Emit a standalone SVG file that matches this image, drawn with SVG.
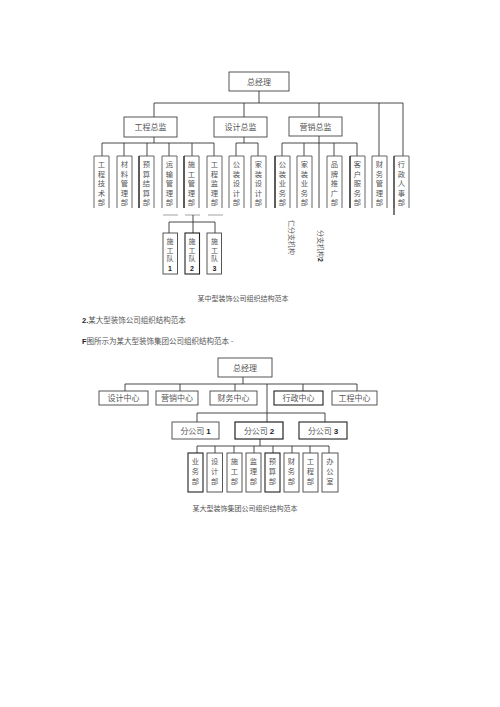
<svg xmlns="http://www.w3.org/2000/svg" width="500" height="707" viewBox="0 0 500 707">
<style>
  .bx{fill:#fff;stroke:#444;stroke-width:0.9}
  .op{fill:none;stroke:#555;stroke-width:0.9}
  .dk{fill:none;stroke:#222;stroke-width:1.2}
  .ln{fill:none;stroke:#333;stroke-width:0.9}
  .gl{fill:none;stroke:#999;stroke-width:0.9}
  text{font-family:"Noto Sans CJK SC","Liberation Sans",sans-serif;fill:#555}
  .t8{font-size:8px}
  .v{font-size:7.3px}
  .t7{font-size:7px}
  .c{text-anchor:middle}
  .n{font-family:"Liberation Sans",sans-serif;font-weight:bold;fill:#222}
</style>
<rect width="500" height="707" fill="#fff"/>

<!-- connectors -->
<g id="connectors">
  <!-- top chart -->
  <path class="ln" d="M259 91V103M154 103H403M154 103V117M244 103V117M319 103V117M379 103V156M403 103V156"/>
  <path class="ln" d="M154 137V143M102 143H214M102 143V156M124 143V156M147 143V156M169 143V156M192 143V156M214 143V156"/>
  <path class="ln" d="M244 137V143M236 143H258M236 143V156M258 143V156"/>
  <path class="ln" d="M319 136V208M282 143H357M282 143V156M304 143V156M334 143V156M357 143V156"/>
  <path class="dk" d="M394 156V215"/>
  <path class="gl" d="M163 215H178M185 215H200M208 215H223"/>
  <path class="ln" d="M193 215V222M169 222H215M169 222V233M193 222V233M215 222V233"/>
  <!-- bottom chart -->
  <path class="ln" d="M243 377V384M125 384H357M125 384V391M180 384V391M235 384V391M303 384V391M357 384V391"/>
  <path class="ln" d="M267 384V422M197 413H325M197 413V422M325 413V422"/>
  <path class="ln" d="M260 439V446M197 446H329M197 446V453M215 446V453M234 446V453M254 446V453M273 446V453M292 446V453M310 446V453M329 446V453"/>
</g>

<!-- top chart nodes -->
<g id="n-zjl"><rect class="bx" x="229" y="72" width="60" height="19"/><text class="t8 c" x="259" y="84.5">总经理</text></g>
<g id="n-gczj"><rect class="bx" x="124" y="117" width="53" height="20"/><text class="t8 c" x="150.5" y="130">工程总监</text></g>
<g id="n-sjzj"><rect class="bx" x="214" y="117" width="53" height="20"/><text class="t8 c" x="240.5" y="130">设计总监</text></g>
<g id="n-yxzj"><rect class="bx" x="289" y="117" width="53" height="19"/><text class="t8 c" x="315.5" y="130">营销总监</text></g>

<g id="d1"><path class="op" d="M94 208V156H109V208"/><text class="v c"><tspan x="101.5" y="167">工</tspan><tspan x="101.5" y="176.5">程</tspan><tspan x="101.5" y="186">技</tspan><tspan x="101.5" y="195.5">术</tspan><tspan x="101.5" y="205">部</tspan></text></g>
<g id="d2"><path class="op" d="M117 208V156H132V208"/><text class="v c"><tspan x="124.5" y="167">材</tspan><tspan x="124.5" y="176.5">料</tspan><tspan x="124.5" y="186">管</tspan><tspan x="124.5" y="195.5">理</tspan><tspan x="124.5" y="205">部</tspan></text></g>
<g id="d3"><path class="op" d="M139 208V156H154V208"/><path class="dk" d="M139 156V208"/><text class="v c"><tspan x="146.5" y="167">预</tspan><tspan x="146.5" y="176.5">算</tspan><tspan x="146.5" y="186">结</tspan><tspan x="146.5" y="195.5">算</tspan><tspan x="146.5" y="205">部</tspan></text></g>
<g id="d4"><path class="op" d="M162 208V156H177V208"/><text class="v c"><tspan x="169.5" y="167">运</tspan><tspan x="169.5" y="176.5">输</tspan><tspan x="169.5" y="186">管</tspan><tspan x="169.5" y="195.5">理</tspan><tspan x="169.5" y="205">部</tspan></text></g>
<g id="d5"><path class="op" d="M184 208V156H199V208"/><path class="dk" d="M184 156V208"/><text class="v c"><tspan x="191.5" y="167">施</tspan><tspan x="191.5" y="176.5">工</tspan><tspan x="191.5" y="186">管</tspan><tspan x="191.5" y="195.5">理</tspan><tspan x="191.5" y="205">部</tspan></text></g>
<g id="d6"><path class="op" d="M207 208V156H222V208"/><text class="v c"><tspan x="214.5" y="167">工</tspan><tspan x="214.5" y="176.5">程</tspan><tspan x="214.5" y="186">监</tspan><tspan x="214.5" y="195.5">理</tspan><tspan x="214.5" y="205">部</tspan></text></g>
<g id="d7"><path class="op" d="M229 208V156H244V208"/><text class="v c"><tspan x="236.5" y="167">公</tspan><tspan x="236.5" y="176.5">装</tspan><tspan x="236.5" y="186">设</tspan><tspan x="236.5" y="195.5">计</tspan><tspan x="236.5" y="205">部</tspan></text></g>
<g id="d8"><path class="op" d="M251 208V156H266V208"/><text class="v c"><tspan x="258.5" y="167">家</tspan><tspan x="258.5" y="176.5">装</tspan><tspan x="258.5" y="186">设</tspan><tspan x="258.5" y="195.5">计</tspan><tspan x="258.5" y="205">部</tspan></text></g>
<g id="d9"><path class="op" d="M275 208V156H290V208"/><path class="dk" d="M275 156V208"/><text class="v c"><tspan x="282.5" y="167">公</tspan><tspan x="282.5" y="176.5">装</tspan><tspan x="282.5" y="186">业</tspan><tspan x="282.5" y="195.5">务</tspan><tspan x="282.5" y="205">部</tspan></text></g>
<g id="d10"><path class="op" d="M297 208V156H312V208"/><text class="v c"><tspan x="304.5" y="167">家</tspan><tspan x="304.5" y="176.5">装</tspan><tspan x="304.5" y="186">业</tspan><tspan x="304.5" y="195.5">务</tspan><tspan x="304.5" y="205">部</tspan></text></g>
<g id="d11"><path class="op" d="M327 208V156H342V208"/><text class="v c"><tspan x="334.5" y="167">品</tspan><tspan x="334.5" y="176.5">牌</tspan><tspan x="334.5" y="186">推</tspan><tspan x="334.5" y="195.5">广</tspan><tspan x="334.5" y="205">部</tspan></text></g>
<g id="d12"><path class="op" d="M350 208V156H365V208"/><path class="dk" d="M350 156V208"/><text class="v c"><tspan x="357.5" y="167">客</tspan><tspan x="357.5" y="176.5">户</tspan><tspan x="357.5" y="186">服</tspan><tspan x="357.5" y="195.5">务</tspan><tspan x="357.5" y="205">部</tspan></text></g>
<g id="d13"><path class="op" d="M372 208V156H387V208"/><text class="v c"><tspan x="379.5" y="167">财</tspan><tspan x="379.5" y="176.5">务</tspan><tspan x="379.5" y="186">管</tspan><tspan x="379.5" y="195.5">理</tspan><tspan x="379.5" y="205">部</tspan></text></g>
<g id="d14"><path class="op" d="M394 208V156H409V208"/><text class="v c"><tspan x="401.5" y="167">行</tspan><tspan x="401.5" y="176.5">政</tspan><tspan x="401.5" y="186">人</tspan><tspan x="401.5" y="195.5">事</tspan><tspan x="401.5" y="205">部</tspan></text></g>

<g id="sgd1"><rect class="bx" x="163" y="233" width="14.5" height="41"/><text class="t7 c"><tspan x="170" y="244">施</tspan><tspan x="170" y="252.5">工</tspan><tspan x="170" y="261">队</tspan></text><text class="t7 c n" x="170" y="270.5">1</text></g>
<g id="sgd2"><rect class="bx" x="185" y="233" width="14.5" height="41" style="stroke:#222;stroke-width:1.1"/><text class="t7 c"><tspan x="192" y="244">施</tspan><tspan x="192" y="252.5">工</tspan><tspan x="192" y="261">队</tspan></text><text class="t7 c n" x="192" y="270.5">2</text></g>
<g id="sgd3"><rect class="bx" x="207" y="233" width="14.5" height="41"/><text class="t7 c"><tspan x="214.5" y="244">施</tspan><tspan x="214.5" y="252.5">工</tspan><tspan x="214.5" y="261">队</tspan></text><text class="t7 c n" x="214.5" y="270.5">3</text></g>

<g id="fz1"><text class="t7" transform="translate(288.5 220) rotate(90)">仁分支机构</text></g>
<g id="fz2"><text class="t7" transform="translate(317.5 230) rotate(90)">分支机构<tspan class="n">2</tspan></text></g>

<text class="t7 c" x="243" y="301">某中型装饰公司组织结构范本</text>
<text class="t7" x="82" y="323" style="font-size:7.5px"><tspan class="n">2.</tspan>某大型装饰公司组织结构范本</text>
<text class="t7" x="82" y="344" style="font-size:7.5px"><tspan class="n">F</tspan>图所示为某大型装饰集团公司组织结构范本 -</text>

<!-- bottom chart nodes -->
<g id="b-zjl"><rect class="bx" x="218" y="358" width="54" height="19"/><text class="t8 c" x="245" y="370.5">总经理</text></g>
<g id="b-sj"><rect class="bx" x="99" y="391" width="49" height="14"/><text class="t8 c" x="123.5" y="401">设计中心</text></g>
<g id="b-yx"><rect class="bx" x="156" y="391" width="42" height="14"/><text class="t8 c" x="177" y="401">营销中心</text></g>
<g id="b-cw"><rect class="bx" x="210" y="391" width="47" height="14"/><text class="t8 c" x="233.5" y="401">财务中心</text></g>
<g id="b-xz"><rect class="bx" x="274" y="391" width="49" height="14" style="stroke:#222;stroke-width:1.1"/><text class="t8 c" x="298.5" y="401">行政中心</text></g>
<g id="b-gc"><rect class="bx" x="332" y="391" width="45" height="14"/><text class="t8 c" x="354.5" y="401">工程中心</text></g>

<g id="b-f1"><rect class="bx" x="172" y="422" width="47" height="17"/><text class="t8 c" x="195.5" y="433.5">分公司 <tspan class="n">1</tspan></text></g>
<g id="b-f2"><rect class="bx" x="235" y="422" width="48" height="17" style="stroke:#222;stroke-width:1.2"/><text class="t8 c" x="259" y="433.5">分公司 <tspan class="n">2</tspan></text></g>
<g id="b-f3"><rect class="bx" x="299" y="422" width="48" height="17" style="stroke:#222;stroke-width:1.1"/><text class="t8 c" x="323" y="433.5">分公司 <tspan class="n">3</tspan></text></g>

<g id="b-d1"><rect class="bx" x="188" y="453" width="15" height="39" style="stroke:#222;stroke-width:1.1"/><text class="v c"><tspan x="195.5" y="464">业</tspan><tspan x="195.5" y="474">务</tspan><tspan x="195.5" y="484">部</tspan></text></g>
<g id="b-d2"><rect class="bx" x="207" y="453" width="15.5" height="39"/><text class="v c"><tspan x="214.7" y="464">设</tspan><tspan x="214.7" y="474">计</tspan><tspan x="214.7" y="484">部</tspan></text></g>
<g id="b-d3"><rect class="bx" x="227" y="453" width="15" height="39"/><text class="v c"><tspan x="234.5" y="464">施</tspan><tspan x="234.5" y="474">工</tspan><tspan x="234.5" y="484">部</tspan></text></g>
<g id="b-d4"><rect class="bx" x="246" y="453" width="15" height="39"/><text class="v c"><tspan x="253.5" y="464">监</tspan><tspan x="253.5" y="474">理</tspan><tspan x="253.5" y="484">部</tspan></text></g>
<g id="b-d5"><rect class="bx" x="265" y="453" width="15" height="39" style="stroke:#222;stroke-width:1.1"/><text class="v c"><tspan x="272.5" y="464">预</tspan><tspan x="272.5" y="474">算</tspan><tspan x="272.5" y="484">部</tspan></text></g>
<g id="b-d6"><rect class="bx" x="284" y="453" width="15" height="39"/><text class="v c"><tspan x="291.5" y="464">财</tspan><tspan x="291.5" y="474">务</tspan><tspan x="291.5" y="484">部</tspan></text></g>
<g id="b-d7"><rect class="bx" x="303" y="453" width="15" height="39"/><text class="v c"><tspan x="310.5" y="464">工</tspan><tspan x="310.5" y="474">程</tspan><tspan x="310.5" y="484">部</tspan></text></g>
<g id="b-d8"><rect class="bx" x="322" y="453" width="16" height="39"/><text class="v c"><tspan x="330" y="464">办</tspan><tspan x="330" y="474">公</tspan><tspan x="330" y="484">室</tspan></text></g>

<text class="t7 c" x="245" y="511">某大型装饰集团公司组织结构范本</text>
</svg>
